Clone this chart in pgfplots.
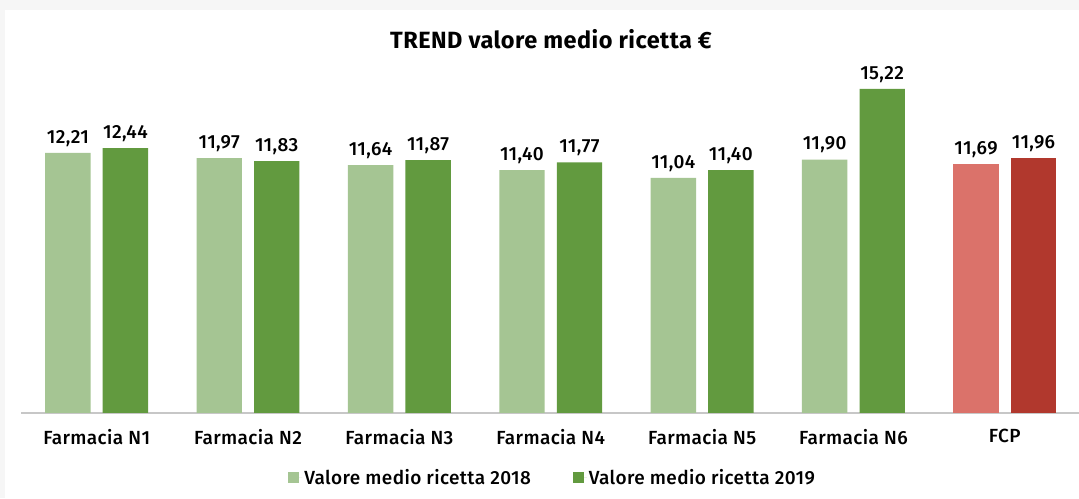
\documentclass[border=0pt]{standalone}
\usepackage{pgfplots}
\pgfplotsset{compat=1.18}
\usepackage{fontspec}
\setmainfont{Fira Sans Medium}[BoldFont={Fira Sans Bold}, LetterSpace=2]
\definecolor{lg}{HTML}{A5C593}
\definecolor{dg}{HTML}{629A3F}
\definecolor{lr}{HTML}{DB726A}
\definecolor{dr}{HTML}{B1382D}
\definecolor{bg}{HTML}{F6F6F6}
\begin{document}
\begin{tikzpicture}[x=1pt,y=1pt]
\fill[bg] (0,0) rectangle (1079,498);
\fill[white] (5,0) rectangle (1079,488);
\path[use as bounding box] (0,0) rectangle (1079,498);
\node[font=\fontsize{23.5}{28}\selectfont\bfseries] at (551,459) {TREND valore medio ricetta €};
\begin{axis}[
  at={(21pt,85pt)}, anchor=south west,
  scale only axis, width=1058pt, height=340.8pt,
  xmin=-0.5, xmax=6.49, ymin=0, ymax=16,
  axis x line*=bottom, axis y line=none,
  x axis line style={draw=black!22, line width=1.2pt, -},
  xtick={0,1,2,3,4,5,6},
  xticklabels={Farmacia N1,Farmacia N2,Farmacia N3,Farmacia N4,Farmacia N5,Farmacia N6,FCP},
  major tick length=0pt,
  xticklabel style={font=\fontsize{19}{22}\selectfont, yshift=-13pt},
  ybar, bar width=0.3,
  clip=false,
  nodes near coords={\pgfmathprintnumber[fixed,fixed zerofill,precision=2,use comma,assume math mode=true]{\pgfplotspointmeta}},
  every node near coord/.append style={font=\fontsize{19}{22}\selectfont, black, yshift=3pt},
  legend columns=2,
  legend style={at={(0.5025,-0.19)}, anchor=center, draw=none, fill=none,
    font=\fontsize{19}{22}\selectfont,
    /tikz/every even column/.append style={column sep=40pt}},
  legend cell align=left,
  legend image code/.code={\fill[#1] (0pt,-5.5pt) rectangle (11pt,5.5pt); \path (0pt,0pt) -- (14pt,0pt);},
]
\addplot[fill=lg, draw=none, bar shift=-0.19] coordinates {(0,12.21) (1,11.97) (2,11.64) (3,11.40) (4,11.04) (5,11.90)};
\addplot[fill=dg, draw=none, bar shift=0.19] coordinates {(0,12.44) (1,11.83) (2,11.87) (3,11.77) (4,11.40) (5,15.22)};
\addplot[fill=lr, draw=none, bar shift=-0.19, forget plot] coordinates {(6,11.69)};
\addplot[fill=dr, draw=none, bar shift=0.19, forget plot] coordinates {(6,11.96)};
\legend{Valore medio ricetta 2018, Valore medio ricetta 2019}
\end{axis}
\end{tikzpicture}
\end{document}
